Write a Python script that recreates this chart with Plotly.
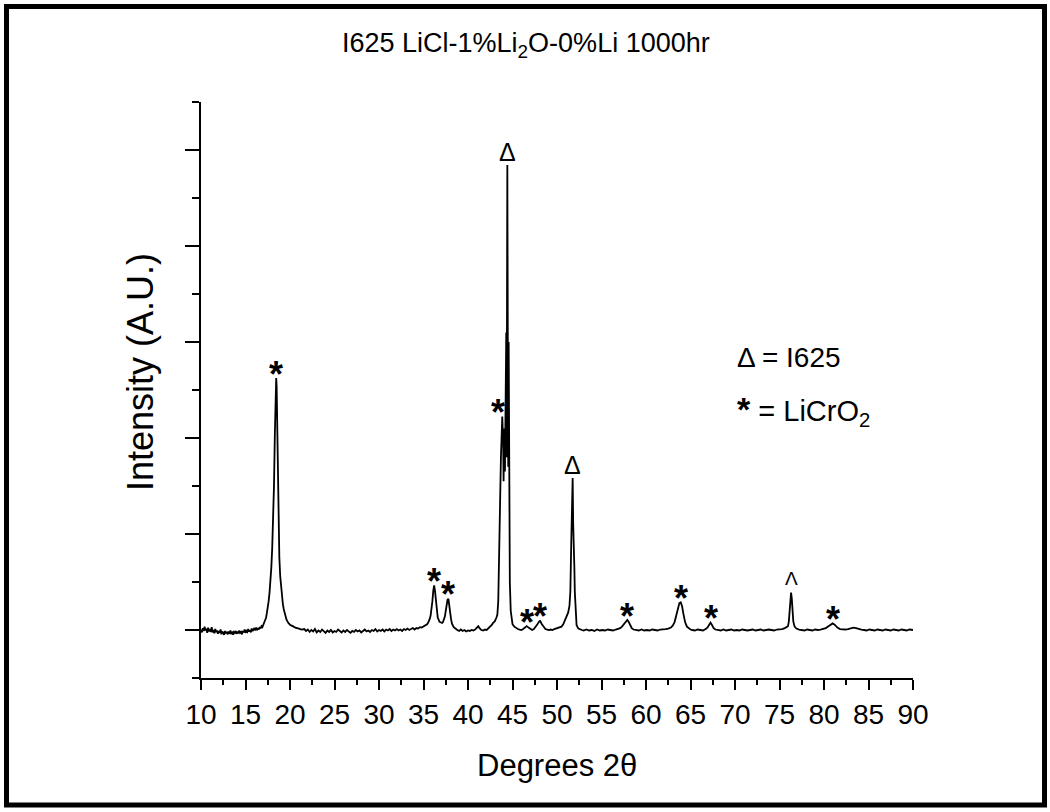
import plotly.graph_objects as go

# ---- data (2-theta in degrees, intensity in arbitrary units) ----
two_theta = [
    10.0, 10.1, 10.2, 10.3, 10.4, 10.5, 10.6, 10.7, 10.8, 10.9,
    11.0, 11.1, 11.2, 11.3, 11.4, 11.5, 11.6, 11.7, 11.8, 11.9,
    12.0, 12.1, 12.2, 12.3, 12.4, 12.5, 12.6, 12.7, 12.8, 12.9,
    13.0, 13.1, 13.2, 13.3, 13.4, 13.5, 13.6, 13.7, 13.8, 13.9,
    14.0, 14.1, 14.2, 14.3, 14.4, 14.5, 14.6, 14.7, 14.8, 14.9,
    15.0, 15.1, 15.2, 15.3, 15.4, 15.5, 15.6, 15.7, 15.8, 15.9,
    16.0, 16.1, 16.2, 16.3, 16.4, 16.5, 16.6, 16.7, 16.8, 16.9,
    17.0, 17.1, 17.2, 17.3, 17.4, 17.5, 17.6, 17.7, 17.8, 17.9,
    18.0, 18.1, 18.2, 18.3, 18.4, 18.45, 18.5, 18.6, 18.7, 18.8, 18.9,
    19.0, 19.1, 19.2, 19.3, 19.4, 19.5, 19.6, 19.8, 20.0, 20.3, 20.6, 21.0, 21.3,
    21.6, 21.8, 22.0, 22.2, 22.4, 22.6, 22.8, 23.0, 23.2, 23.4, 23.6, 23.8,
    24.0, 24.2, 24.4, 24.6, 24.8, 25.0, 25.2, 25.4, 25.6, 25.8,
    26.0, 26.2, 26.4, 26.6, 26.8, 27.0, 27.2, 27.4, 27.6, 27.8,
    28.0, 28.2, 28.4, 28.6, 28.8, 29.0, 29.2, 29.4, 29.6, 29.8,
    30.0, 30.2, 30.4, 30.6, 30.8, 31.0, 31.2, 31.4, 31.6, 31.8,
    32.0, 32.2, 32.4, 32.6, 32.8, 33.0, 33.2, 33.4, 33.6, 33.8,
    34.0, 34.2, 34.4, 34.6, 34.8, 35.0,
    35.2, 35.4, 35.5, 35.6, 35.7, 35.8, 35.9, 36.0, 36.1, 36.2, 36.3, 36.4, 36.5, 36.6,
    36.8, 37.0, 37.1, 37.2, 37.4, 37.5, 37.6, 37.7, 37.8, 37.9, 38.0, 38.1, 38.2, 38.4,
    38.6, 38.8, 39.0, 39.2, 39.4, 39.6, 39.8, 40.0, 40.2, 40.4, 40.6, 40.8, 41.0, 41.15,
    41.3, 41.5, 41.7, 41.9, 42.1, 42.3, 42.5, 42.7, 42.8, 43.0, 43.2, 43.3, 43.4, 43.45,
    43.55, 43.7, 43.85, 43.95, 44.0, 44.05, 44.15, 44.22, 44.3, 44.34, 44.38, 44.42,
    44.47, 44.52, 44.57, 44.62, 44.7, 44.8, 44.9, 45.0, 45.2, 45.4, 45.6, 45.8, 46.0,
    46.2, 46.4, 46.6, 46.8, 47.0, 47.2, 47.4, 47.6, 47.8, 48.0, 48.1, 48.3, 48.5, 48.7,
    48.9, 49.1, 49.3, 49.5, 49.7, 49.9, 50.1, 50.3, 50.5, 50.7, 50.9, 51.1, 51.25, 51.4,
    51.5, 51.6, 51.7, 51.76, 51.82, 51.86, 51.9, 51.95, 52.0, 52.1, 52.2, 52.4, 52.6, 52.8,
    53.0, 53.3, 53.6, 53.9, 54.2, 54.5, 54.8, 55.1, 55.4, 55.7, 56.0, 56.3, 56.6, 56.9,
    57.1, 57.3, 57.5, 57.7, 57.9, 58.05, 58.2, 58.4, 58.6, 58.9, 59.2, 59.5, 59.8, 60.1,
    60.4, 60.7, 61.0, 61.3, 61.6, 61.9, 62.2, 62.5, 62.8, 63.0, 63.2, 63.4, 63.6, 63.75,
    63.9, 64.05, 64.2, 64.4, 64.6, 64.8, 65.0, 65.2, 65.5, 65.8, 66.1, 66.4, 66.7, 66.9,
    67.1, 67.25, 67.4, 67.6, 67.8, 68.1, 68.4, 68.7, 69.0, 69.3, 69.6, 69.9, 70.2, 70.5,
    70.8, 71.1, 71.4, 71.7, 72.0, 72.3, 72.6, 72.9, 73.2, 73.5, 73.8, 74.1, 74.4, 74.7,
    75.0, 75.3, 75.6, 75.8, 75.95, 76.05, 76.15, 76.22, 76.3, 76.38, 76.45, 76.55, 76.7, 76.9,
    77.2, 77.5, 77.8, 78.1, 78.4, 78.7, 79.0, 79.3, 79.6, 79.9, 80.2, 80.5, 80.8, 80.97,
    81.2, 81.5, 81.8, 82.1, 82.4, 82.7, 83.0, 83.3, 83.6, 83.9, 84.2, 84.5, 84.8, 85.1,
    85.4, 85.7, 86.0, 86.3, 86.6, 86.9, 87.2, 87.5, 87.8, 88.1, 88.4, 88.7, 89.0, 89.3,
    89.6, 90.0,
]
intensity = [
    5, -25, 20, -10, 35, -5, 15, -30, 25, -15,
    10, -20, 30, -25, 0, -35, 10, -20, -5, -40,
    -10, -30, 5, -45, -15, -30, -50, -10, -35, -20,
    -45, -15, -40, -5, -35, -25, -50, -20, -30, -10,
    -40, -15, -35, -5, -30, -20, -45, -10, -25, 5,
    -30, -10, -20, 10, -15, 0, -25, 15, -10, 5,
    20, -5, 25, 0, 20, 5, 30, 15, 40, 30,
    55, 65, 95, 125, 175, 230, 300, 390, 500, 650,
    850, 1120, 1500, 2050, 2520, 2625, 2530, 1900, 1250, 760, 560,
    430, 340, 270, 215, 170, 135, 110, 75, 55, 40, 25, 15, 5,
    10, -10, 5, -20, 0, -15, 10, -25, -5, -20, 5, -15,
    -30, -5, -20, 0, -25, -10, -20, 5, -15, -25,
    -5, -20, 0, -15, -30, -10, -20, 0, -15, -5,
    -25, -10, 5, -15, -5, -20, 0, -10, 10, -15,
    0, -10, 5, -15, 5, -5, 10, -10, 5, -5,
    10, -5, 5, -10, 10, 0, 15, 0, 10, 20,
    5, 20, 15, 30, 25, 35,
    45, 60, 73, 90, 115, 150, 210, 300, 410, 465, 400, 280, 190, 130,
    85, 75, 73, 85, 140, 200, 270, 315, 325, 270, 180, 110, 65, 30,
    10, 0, -10, 5, -10, 0, -15, -5, -10, 0, -5, 5, 25, 40,
    20, 0, -5, 5, 0, 15, 30, 55, 73, 90, 130, 160, 300, 600,
    1200, 1800, 2223, 1950, 1550, 2100, 1650, 2900, 3100, 1800, 3100, 4845,
    3100, 1700, 3000, 1400, 500, 200, 100, 60, 35, 20, 10, 5, 0,
    10, 25, 40, 25, 10, 0, 10, 30, 60, 90, 94, 60, 30, 10,
    5, 0, 5, 0, 10, 15, 20, 30, 35, 60, 100, 140, 180, 250,
    400, 900, 1300, 1583, 1100, 800, 1000, 650, 400, 150, 50, 15, 5, 0,
    -5, 5, -5, 0, -10, 5, -5, 0, -5, 5, 0, -5, 5, 10,
    20, 35, 60, 90, 104, 85, 50, 20, 5, 0, -5, 5, -5, 0,
    -5, 5, 0, -5, 5, 5, 10, 15, 25, 45, 80, 150, 230, 280,
    288, 250, 170, 80, 35, 15, 5, 0, -5, 5, 0, -5, 10, 25,
    55, 76, 55, 20, 5, 0, -5, 5, -5, 0, 5, -5, 0, -5,
    5, 0, -5, 0, 5, -5, 0, 5, -5, 0, 5, 0, -5, 5,
    5, 10, 20, 30, 40, 90, 200, 330, 389, 330, 200, 90, 35, 15,
    5, 0, -5, 5, 0, -5, 5, 0, 5, 10, 20, 40, 60, 69,
    55, 25, 10, 5, 5, 10, 20, 25, 20, 10, 5, 0, -5, 5,
    0, -5, 5, 0, -5, 5, 0, -5, 5, 0, -5, 5, 0, -5,
    5, 0,
]

# peak labels
star_theta = [18.45, 36.2, 37.8, 43.4, 46.6, 48.1, 57.9, 63.9, 67.25, 80.97]
star_height = [2625, 465, 325, 2223, 40, 94, 104, 288, 76, 69]
delta_theta = [44.42, 51.76]
delta_height = [4845, 1583]
caret_theta = [76.3]
caret_height = [389]

x_ticks = list(range(10, 95, 5))

title_text = "I625 LiCl-1%Li<sub>2</sub>O-0%Li 1000hr"
x_title = "Degrees 2θ"
y_title = "Intensity (A.U.)"
legend_lines = ["Δ = I625", "<b><span style=\"font-size:34px\">*</span></b> = LiCrO<sub>2</sub>"]

SANS = "Liberation Sans, Arial, sans-serif"

fig = go.Figure()
fig.add_trace(go.Scatter(x=two_theta, y=intensity, mode="lines",
                         line=dict(color="black", width=1.8), showlegend=False,
                         hoverinfo="skip"))

# plot area in pixels: x 201..913, y 102..678
L, R, T, B = 201, 913, 102, 678
W, H = R - L, B - T


def px(X):
    return (X - L) / W


def py(Y):
    return (B - Y) / H


annotations = []
for xv, yv in zip(star_theta, star_height):
    annotations.append(dict(x=xv, y=yv, xref="x", yref="y", text="<b>*</b>",
                            showarrow=False, yanchor="middle", yshift=4,
                            font=dict(family=SANS, size=36, color="black")))
for xv, yv in zip(delta_theta, delta_height):
    annotations.append(dict(x=xv, y=yv, xref="x", yref="y", text="Δ",
                            showarrow=False, yanchor="middle", yshift=13,
                            font=dict(family=SANS, size=25, color="black")))
for xv, yv in zip(caret_theta, caret_height):
    annotations.append(dict(x=xv, y=yv, xref="x", yref="y", text="Λ",
                            showarrow=False, yanchor="middle", yshift=14,
                            font=dict(family="DejaVu Sans ExtraLight, Liberation Sans", size=19, color="black")))

annotations.append(dict(x=px(526), y=py(45), xref="paper", yref="paper", text=title_text,
                        showarrow=False, xanchor="center", yanchor="middle",
                        font=dict(family=SANS, size=27, color="black")))
annotations.append(dict(x=px(557), y=py(765), xref="paper", yref="paper", text=x_title,
                        showarrow=False, xanchor="center", yanchor="middle",
                        font=dict(family=SANS, size=31, color="black")))
annotations.append(dict(x=px(140), y=py(372), xref="paper", yref="paper", text=y_title,
                        showarrow=False, xanchor="center", yanchor="middle", textangle=-90,
                        font=dict(family=SANS, size=36, color="black")))
annotations.append(dict(x=px(735), y=py(357), xref="paper", yref="paper", text=legend_lines[0],
                        showarrow=False, xanchor="left", yanchor="middle",
                        font=dict(family=SANS, size=28, color="black")))
annotations.append(dict(x=px(735), y=py(410), xref="paper", yref="paper", text=legend_lines[1],
                        showarrow=False, xanchor="left", yanchor="middle",
                        font=dict(family=SANS, size=29, color="black")))

fig.update_layout(
    width=1050, height=812,
    margin=dict(l=L, r=1050 - R, t=T, b=812 - B),
    paper_bgcolor="white", plot_bgcolor="white",
    showlegend=False,
    annotations=annotations,
    shapes=[dict(type="rect", xref="paper", yref="paper",
                 x0=px(6.5), x1=px(1044.5), y0=py(805), y1=py(6.5),
                 line=dict(color="black", width=5))],
)
fig.update_xaxes(range=[10, 90], tickmode="array", tickvals=x_ticks,
                 ticktext=[str(v) for v in x_ticks],
                 ticks="outside", ticklen=10, tickwidth=2, tickcolor="black",
                 showline=True, linecolor="black", linewidth=2,
                 showgrid=False, zeroline=False,
                 tickfont=dict(family=SANS, size=28, color="black"),
                 minor=dict(dtick=2.5, tick0=10, ticks="outside", ticklen=5,
                            tickwidth=2, tickcolor="black", showgrid=False))
fig.update_yaxes(range=[-500, 5500], tick0=0, dtick=1000,
                 ticks="outside", ticklen=14, tickwidth=2, tickcolor="black",
                 showline=True, linecolor="black", linewidth=2,
                 showgrid=False, zeroline=False, showticklabels=False,
                 minor=dict(dtick=500, tick0=0, ticks="outside", ticklen=7,
                            tickwidth=2, tickcolor="black", showgrid=False))

fig.write_html("out.html")
